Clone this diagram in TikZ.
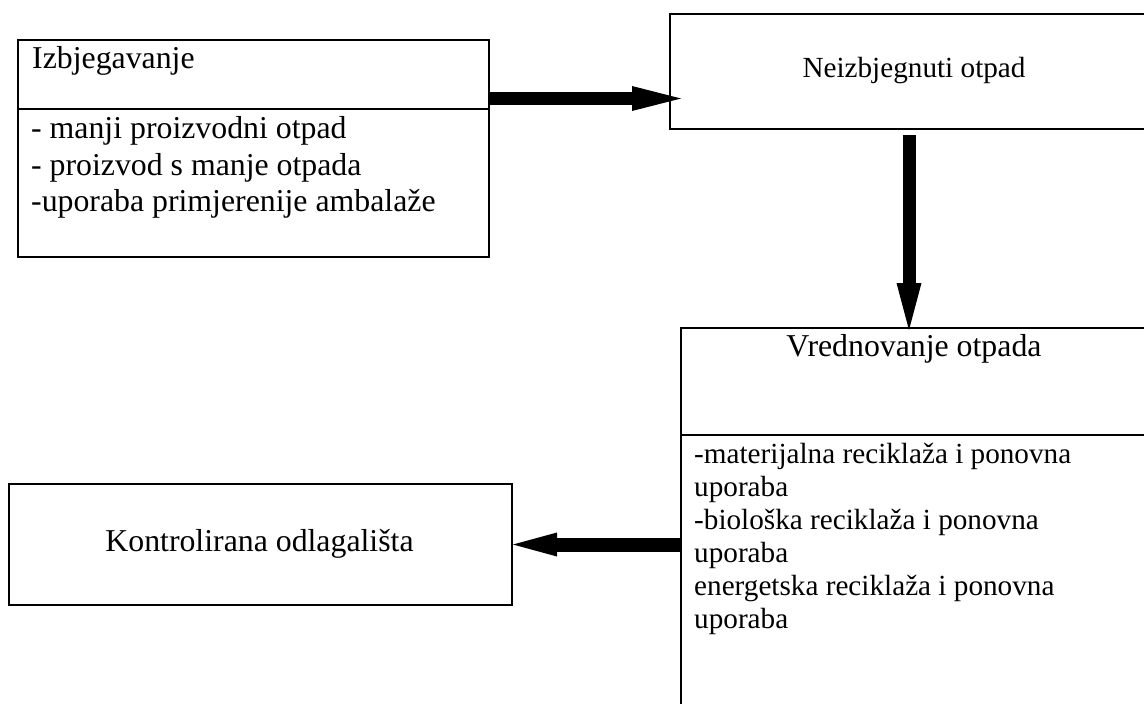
\documentclass[tikz,border=0pt]{standalone}
\usepackage{fontspec}
\setmainfont{Liberation Serif}
\usetikzlibrary{arrows.meta}

\begin{document}
\begin{tikzpicture}[x=1pt, y=-1pt,
  box/.style={rectangle, draw, line width=2pt, anchor=north west, inner sep=0pt},
  bigline/.style={anchor=base west, inner sep=0pt, font=\fontsize{31.8pt}{36.5pt}\selectfont},
  smallline/.style={anchor=base west, inner sep=0pt, font=\fontsize{29.2pt}{33pt}\selectfont},
  fatarrow/.style={line width=13pt, -{Triangle[length=49pt, width=25pt, line width=0pt]}}]

% Page size
\useasboundingbox (0,0) rectangle (1144,704);
\clip (0,0) rectangle (1144,704);

% Izbjegavanje
\node (avoid) [box, minimum width=471pt, minimum height=217pt] at (17,39) {};
\draw[line width=2pt] ([yshift=-70pt]avoid.north west) -- ([yshift=-70pt]avoid.north east);
\node (avoid_title) [bigline] at (32,68) {Izbjegavanje};
\node (avoid_line1) [bigline] at (31,138.5) {- manji proizvodni otpad};
\node (avoid_line2) [bigline] at (31,175) {- proizvod s manje otpada};
\node (avoid_line3) [bigline] at (31,211.5) {-uporaba primjerenije ambalaže};

% Neizbjegnuti otpad
\node (unavoid) [box, minimum width=490pt, minimum height=115pt] at (669,13) {};
\node (unavoid_title) [smallline, anchor=base] at (914,77) {Neizbjegnuti otpad};

% Vrednovanje otpada (runs off the page to the right and bottom)
\node (value) [box, minimum width=468pt, minimum height=420pt] at (680,327) {};
\draw[line width=2pt] ([yshift=-108pt]value.north west) -- ([yshift=-108pt]value.north east);
\node (value_title) [bigline, anchor=base] at (914,356) {Vrednovanje otpada};
\node (value_line1) [smallline] at (694,463) {-materijalna reciklaža i ponovna};
\node (value_line2) [smallline] at (694,496) {uporaba};
\node (value_line3) [smallline] at (694,529) {-biološka reciklaža i ponovna};
\node (value_line4) [smallline] at (694,562) {uporaba};
\node (value_line5) [smallline] at (694,595) {energetska reciklaža i ponovna};
\node (value_line6) [smallline] at (694,628) {uporaba};

% Kontrolirana odlagalista
\node (landfill) [box, minimum width=503pt, minimum height=121pt] at (8,483) {};
\node (landfill_title) [bigline, anchor=base] at (259.5,551) {Kontrolirana odlagališta};

% Arrows
\draw[fatarrow] ([yshift=50pt]avoid.east) -- ([xshift=12pt, yshift=-27pt]unavoid.west);
\draw[fatarrow, -{Triangle[length=47pt, width=25pt, line width=0pt]}] ([xshift=-6pt, yshift=-5pt]unavoid.south) -- ([xshift=-6pt, yshift=-3pt]value.north);
\draw[fatarrow, line width=14pt, -{Triangle[length=44pt, width=24pt, line width=0pt]}] (value.west |- landfill.east) -- (landfill.east);

\end{tikzpicture}
\end{document}
